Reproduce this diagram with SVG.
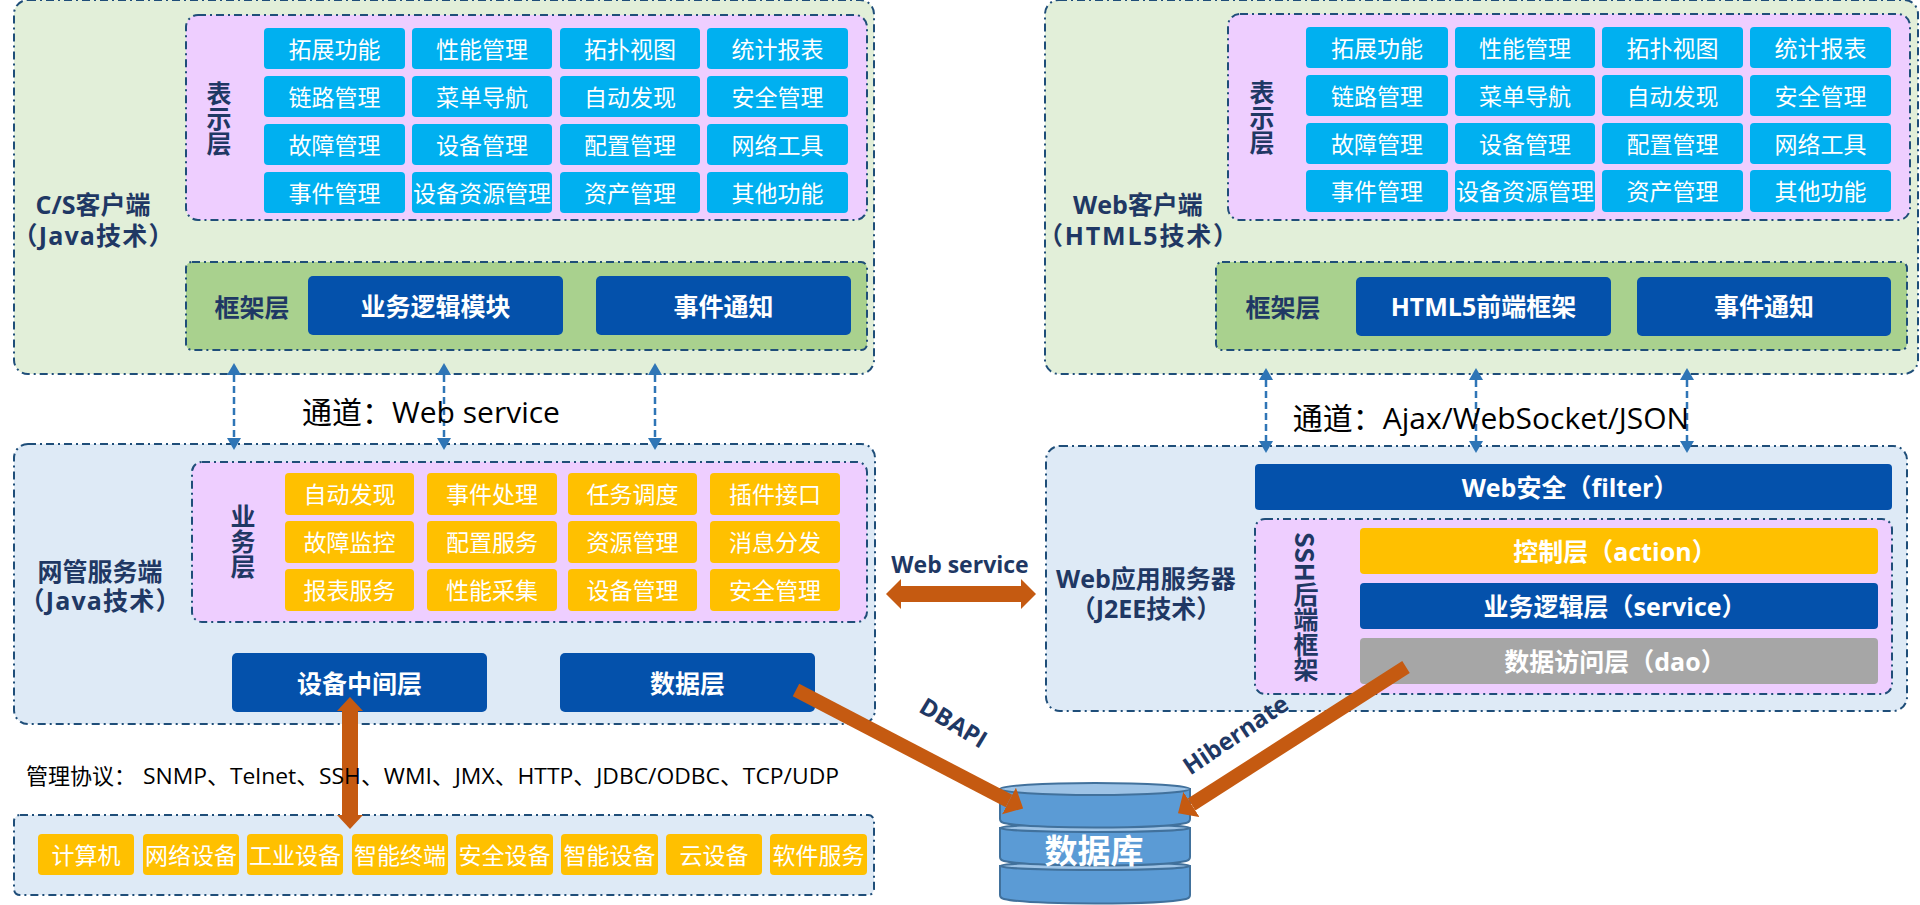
<svg xmlns="http://www.w3.org/2000/svg" width="1920" height="905" viewBox="0 0 1920 905">
<style>
text{font-family:"Open Sans","Noto Sans CJK SC",sans-serif;text-anchor:middle;dominant-baseline:central}
.pan{stroke:#1F4E79;stroke-width:2;stroke-dasharray:8 4 2 4}
.gr{fill:#E2EFD9}.lb{fill:#DEEAF6}.pk{fill:#EECEFF}.fw{fill:#A9D18E}
.c{fill:#00B0F0}.y{fill:#FFC000}.d{fill:#0451AB}.g{fill:#A6A6A6}
.t{fill:#fff;font-size:23px}
.b{fill:#fff;font-size:25px;font-weight:700}
.n{fill:#1F3864;font-size:25px;font-weight:700}
.v{fill:#1F3864;font-size:25px;font-weight:700;writing-mode:vertical-rl;font-family:"Noto Sans CJK SC",sans-serif}
.l{fill:#1F3864;font-size:23px;font-weight:700}
.k{fill:#000;font-size:30px}
.p{fill:#000;font-size:22px;text-anchor:start}
.blue{stroke:#2E75B6;stroke-width:2.500;stroke-dasharray:7 4;marker-start:url(#ab);marker-end:url(#ab)}
.br{stroke:#C55A11;fill:none}
.disk{fill:#5B9BD5;stroke:#41719C;stroke-width:2}
.top{fill:#9DC3E6;stroke:#41719C;stroke-width:2}
</style>
<defs>
<marker id="ab" viewBox="0 0 12 14" refX="0" refY="7" markerWidth="12" markerHeight="14" markerUnits="userSpaceOnUse" orient="auto-start-reverse"><path d="M0 0L12 7L0 14Z" fill="#2E75B6"/></marker>
<marker id="bv" viewBox="0 0 14 26" refX="0" refY="13" markerWidth="14" markerHeight="26" markerUnits="userSpaceOnUse" orient="auto-start-reverse"><path d="M0 0L14 13L0 26Z" fill="#C55A11"/></marker>
<marker id="bh" viewBox="0 0 15 30" refX="0" refY="15" markerWidth="15" markerHeight="30" markerUnits="userSpaceOnUse" orient="auto-start-reverse"><path d="M0 0L15 15L0 30Z" fill="#C55A11"/></marker>
<marker id="bd" viewBox="0 0 16 30" refX="0" refY="15" markerWidth="16" markerHeight="30" markerUnits="userSpaceOnUse" orient="auto"><path d="M0 0L16 15L0 30Z" fill="#C55A11"/></marker>
</defs>
<rect width="1920" height="905" fill="#fff"/>

<g id="cs-client">
<rect class="pan gr" x="14" y="0" width="860" height="374" rx="14"/>
<text class="n" x="93" y="204">C/S客户端</text><text class="n" x="93" y="235" textLength="161" lengthAdjust="spacing">（Java技术）</text>
<rect class="pan pk" x="186" y="15" width="681" height="205" rx="12"/>
<text class="v" x="219" y="118">表示层</text>
<rect class="pan fw" x="186" y="262" width="681" height="88" rx="6"/>
<text class="n" x="252" y="307">框架层</text>
</g>
<g id="cs-cells">
<g id="cs1"><rect class="c" x="264" y="28" width="141" height="41" rx="4"/><text class="t" x="334.500" y="49">拓展功能</text></g>
<g id="cs2"><rect class="c" x="412" y="28" width="140" height="41" rx="4"/><text class="t" x="482" y="49">性能管理</text></g>
<g id="cs3"><rect class="c" x="560" y="28" width="140" height="41" rx="4"/><text class="t" x="630" y="49">拓扑视图</text></g>
<g id="cs4"><rect class="c" x="707" y="28" width="141" height="41" rx="4"/><text class="t" x="777.500" y="49">统计报表</text></g>
<g id="cs5"><rect class="c" x="264" y="76" width="141" height="41" rx="4"/><text class="t" x="334.500" y="97">链路管理</text></g>
<g id="cs6"><rect class="c" x="412" y="76" width="140" height="41" rx="4"/><text class="t" x="482" y="97">菜单导航</text></g>
<g id="cs7"><rect class="c" x="560" y="76" width="140" height="41" rx="4"/><text class="t" x="630" y="97">自动发现</text></g>
<g id="cs8"><rect class="c" x="707" y="76" width="141" height="41" rx="4"/><text class="t" x="777.500" y="97">安全管理</text></g>
<g id="cs9"><rect class="c" x="264" y="124" width="141" height="41" rx="4"/><text class="t" x="334.500" y="145">故障管理</text></g>
<g id="cs10"><rect class="c" x="412" y="124" width="140" height="41" rx="4"/><text class="t" x="482" y="145">设备管理</text></g>
<g id="cs11"><rect class="c" x="560" y="124" width="140" height="41" rx="4"/><text class="t" x="630" y="145">配置管理</text></g>
<g id="cs12"><rect class="c" x="707" y="124" width="141" height="41" rx="4"/><text class="t" x="777.500" y="145">网络工具</text></g>
<g id="cs13"><rect class="c" x="264" y="172" width="141" height="41" rx="4"/><text class="t" x="334.500" y="193">事件管理</text></g>
<g id="cs14"><rect class="c" x="412" y="172" width="140" height="41" rx="4"/><text class="t" x="482" y="193">设备资源管理</text></g>
<g id="cs15"><rect class="c" x="560" y="172" width="140" height="41" rx="4"/><text class="t" x="630" y="193">资产管理</text></g>
<g id="cs16"><rect class="c" x="707" y="172" width="141" height="41" rx="4"/><text class="t" x="777.500" y="193">其他功能</text></g>
<g id="cs-logic"><rect class="d" x="308" y="276" width="255" height="59" rx="5"/><text class="b" x="435.500" y="306">业务逻辑模块</text></g>
<g id="cs-event"><rect class="d" x="596" y="276" width="255" height="59" rx="5"/><text class="b" x="723.500" y="306">事件通知</text></g>
</g>

<g id="web-client">
<rect class="pan gr" x="1045" y="0" width="873" height="374" rx="14"/>
<text class="n" x="1138" y="204">Web客户端</text><text class="n" x="1138" y="235" textLength="200" lengthAdjust="spacing">（HTML5技术）</text>
<rect class="pan pk" x="1228" y="14" width="682" height="206" rx="12"/>
<text class="v" x="1262" y="117">表示层</text>
<rect class="pan fw" x="1216" y="262" width="691" height="88" rx="6"/>
<text class="n" x="1283" y="307">框架层</text>
</g>
<g id="web-cells">
<g id="w1"><rect class="c" x="1306" y="27" width="142" height="41" rx="4"/><text class="t" x="1377" y="48">拓展功能</text></g>
<g id="w2"><rect class="c" x="1455" y="27" width="140" height="41" rx="4"/><text class="t" x="1525" y="48">性能管理</text></g>
<g id="w3"><rect class="c" x="1602" y="27" width="141" height="41" rx="4"/><text class="t" x="1672.500" y="48">拓扑视图</text></g>
<g id="w4"><rect class="c" x="1750" y="27" width="141" height="41" rx="4"/><text class="t" x="1820.500" y="48">统计报表</text></g>
<g id="w5"><rect class="c" x="1306" y="75" width="142" height="41" rx="4"/><text class="t" x="1377" y="96">链路管理</text></g>
<g id="w6"><rect class="c" x="1455" y="75" width="140" height="41" rx="4"/><text class="t" x="1525" y="96">菜单导航</text></g>
<g id="w7"><rect class="c" x="1602" y="75" width="141" height="41" rx="4"/><text class="t" x="1672.500" y="96">自动发现</text></g>
<g id="w8"><rect class="c" x="1750" y="75" width="141" height="41" rx="4"/><text class="t" x="1820.500" y="96">安全管理</text></g>
<g id="w9"><rect class="c" x="1306" y="123" width="142" height="41" rx="4"/><text class="t" x="1377" y="144">故障管理</text></g>
<g id="w10"><rect class="c" x="1455" y="123" width="140" height="41" rx="4"/><text class="t" x="1525" y="144">设备管理</text></g>
<g id="w11"><rect class="c" x="1602" y="123" width="141" height="41" rx="4"/><text class="t" x="1672.500" y="144">配置管理</text></g>
<g id="w12"><rect class="c" x="1750" y="123" width="141" height="41" rx="4"/><text class="t" x="1820.500" y="144">网络工具</text></g>
<g id="w13"><rect class="c" x="1306" y="170" width="142" height="42" rx="4"/><text class="t" x="1377" y="191">事件管理</text></g>
<g id="w14"><rect class="c" x="1455" y="170" width="140" height="42" rx="4"/><text class="t" x="1525" y="191">设备资源管理</text></g>
<g id="w15"><rect class="c" x="1602" y="170" width="141" height="42" rx="4"/><text class="t" x="1672.500" y="191">资产管理</text></g>
<g id="w16"><rect class="c" x="1750" y="170" width="141" height="42" rx="4"/><text class="t" x="1820.500" y="191">其他功能</text></g>
<g id="web-html5"><rect class="d" x="1356" y="277" width="255" height="59" rx="5"/><text class="b" x="1483.500" y="306">HTML5前端框架</text></g>
<g id="web-event"><rect class="d" x="1637" y="277" width="254" height="59" rx="5"/><text class="b" x="1764" y="306">事件通知</text></g>
</g>

<g id="nms-server">
<rect class="pan lb" x="14" y="444" width="861" height="280" rx="14"/>
<text class="n" x="100" y="571">网管服务端</text><text class="n" x="100" y="600" textLength="161" lengthAdjust="spacing">（Java技术）</text>
<rect class="pan pk" x="192" y="462" width="675" height="160" rx="10"/>
<text class="v" x="243" y="541">业务层</text>
</g>
<g id="nms-cells">
<g id="n1"><rect class="y" x="285" y="473" width="129" height="42" rx="4"/><text class="t" x="349.500" y="494">自动发现</text></g>
<g id="n2"><rect class="y" x="427" y="473" width="130" height="42" rx="4"/><text class="t" x="492" y="494">事件处理</text></g>
<g id="n3"><rect class="y" x="568" y="473" width="129" height="42" rx="4"/><text class="t" x="632.500" y="494">任务调度</text></g>
<g id="n4"><rect class="y" x="710" y="473" width="130" height="42" rx="4"/><text class="t" x="775" y="494">插件接口</text></g>
<g id="n5"><rect class="y" x="285" y="521" width="129" height="42" rx="4"/><text class="t" x="349.500" y="542">故障监控</text></g>
<g id="n6"><rect class="y" x="427" y="521" width="130" height="42" rx="4"/><text class="t" x="492" y="542">配置服务</text></g>
<g id="n7"><rect class="y" x="568" y="521" width="129" height="42" rx="4"/><text class="t" x="632.500" y="542">资源管理</text></g>
<g id="n8"><rect class="y" x="710" y="521" width="130" height="42" rx="4"/><text class="t" x="775" y="542">消息分发</text></g>
<g id="n9"><rect class="y" x="285" y="569" width="129" height="42" rx="4"/><text class="t" x="349.500" y="590">报表服务</text></g>
<g id="n10"><rect class="y" x="427" y="569" width="130" height="42" rx="4"/><text class="t" x="492" y="590">性能采集</text></g>
<g id="n11"><rect class="y" x="568" y="569" width="129" height="42" rx="4"/><text class="t" x="632.500" y="590">设备管理</text></g>
<g id="n12"><rect class="y" x="710" y="569" width="130" height="42" rx="4"/><text class="t" x="775" y="590">安全管理</text></g>
<g id="nms-device"><rect class="d" x="232" y="653" width="255" height="59" rx="5"/><text class="b" x="359.500" y="683">设备中间层</text></g>
<g id="nms-data"><rect class="d" x="560" y="653" width="255" height="59" rx="5"/><text class="b" x="687.500" y="683">数据层</text></g>
</g>

<g id="devices">
<rect class="pan lb" x="14" y="815" width="860" height="80" rx="6"/>
<g id="d1"><rect class="y" x="38" y="834" width="96" height="41" rx="4"/><text class="t" x="86" y="855">计算机</text></g>
<g id="d2"><rect class="y" x="143" y="834" width="96" height="41" rx="4"/><text class="t" x="191" y="855">网络设备</text></g>
<g id="d3"><rect class="y" x="247" y="834" width="96" height="41" rx="4"/><text class="t" x="295" y="855">工业设备</text></g>
<g id="d4"><rect class="y" x="352" y="834" width="96" height="41" rx="4"/><text class="t" x="400" y="855">智能终端</text></g>
<g id="d5"><rect class="y" x="456" y="834" width="97" height="41" rx="4"/><text class="t" x="504.500" y="855">安全设备</text></g>
<g id="d6"><rect class="y" x="561" y="834" width="97" height="41" rx="4"/><text class="t" x="609.500" y="855">智能设备</text></g>
<g id="d7"><rect class="y" x="666" y="834" width="96" height="41" rx="4"/><text class="t" x="714" y="855">云设备</text></g>
<g id="d8"><rect class="y" x="770" y="834" width="97" height="41" rx="4"/><text class="t" x="818.500" y="855">软件服务</text></g>
</g>

<g id="web-server">
<rect class="pan lb" x="1046" y="446" width="861" height="265" rx="14"/>
<text class="n" x="1146" y="578">Web应用服务器</text><text class="n" x="1146" y="608">（J2EE技术）</text>
<g id="web-security"><rect class="d" x="1255" y="464" width="637" height="46" rx="4"/><text class="b" x="1570" y="487">Web安全（filter）</text></g>
<rect class="pan pk" x="1255" y="519" width="637" height="175" rx="10"/>
<text class="v" x="1306" y="607" textLength="150" lengthAdjust="spacingAndGlyphs">SSH后端框架</text>
<g id="ctrl"><rect class="y" x="1360" y="528" width="518" height="46" rx="4"/><text class="b" x="1615" y="551">控制层（action）</text></g>
<g id="svc"><rect class="d" x="1360" y="583" width="518" height="46" rx="4"/><text class="b" x="1615" y="606">业务逻辑层（service）</text></g>
<g id="dao"><rect class="g" x="1360" y="638" width="518" height="46" rx="4"/><text class="b" x="1615" y="661">数据访问层（dao）</text></g>
</g>

<g id="database">
<path class="disk" d="M1000 866V895Q1000 898 1004 899C1030 905 1160 905 1186 899Q1190 898 1190 895V866Z"/><ellipse class="top" cx="1095" cy="866" rx="95" ry="4"/>
<path class="disk" d="M1000 828V857Q1000 860 1004 861C1030 867 1160 867 1186 861Q1190 860 1190 857V828Z"/><ellipse class="top" cx="1095" cy="828" rx="95" ry="4"/>
<path class="disk" d="M1000 789V819Q1000 822 1004 823C1030 829 1160 829 1186 823Q1190 822 1190 819V789Z"/><ellipse class="top" cx="1095" cy="789" rx="95" ry="6"/>
<text x="1094" y="850" fill="#fff" font-size="33" font-weight="700">数据库</text>
</g>

<g id="connectors">
<line class="blue" x1="234" y1="375" x2="234" y2="438"/>
<line class="blue" x1="444" y1="375" x2="444" y2="438"/>
<line class="blue" x1="655" y1="375" x2="655" y2="438"/>
<line class="blue" x1="1266" y1="380" x2="1266" y2="441"/>
<line class="blue" x1="1476" y1="380" x2="1476" y2="441"/>
<line class="blue" x1="1687" y1="380" x2="1687" y2="441"/>
<line class="br" x1="350" y1="711" x2="350" y2="815" stroke-width="16" marker-start="url(#bv)" marker-end="url(#bv)"/>
<line class="br" x1="901" y1="594" x2="1021" y2="594" stroke-width="16" marker-start="url(#bh)" marker-end="url(#bh)"/>
<line class="br" x1="796" y1="690" x2="1009" y2="801" stroke-width="14" marker-end="url(#bd)"/>
<line class="br" x1="1406" y1="667" x2="1191.500" y2="804.500" stroke-width="14" marker-end="url(#bd)"/>
</g>

<g id="labels">
<text class="k" x="431" y="411">通道：Web service</text>
<text class="k" x="1491" y="417">通道：Ajax/WebSocket/JSON</text>
<text class="p" x="26" y="775">管理协议：</text>
<text class="p" x="143" y="775" textLength="696" lengthAdjust="spacingAndGlyphs">SNMP、Telnet、SSH、WMI、JMX、HTTP、JDBC/ODBC、TCP/UDP</text>
<text class="l" x="960" y="564">Web service</text>
<text class="l" x="954" y="722" style="font-size:24px" transform="rotate(31 954 722)">DBAPI</text>
<text class="l" x="1235" y="734" style="font-size:24px" transform="rotate(-34 1235 734)">Hibernate</text>
</g>
</svg>
